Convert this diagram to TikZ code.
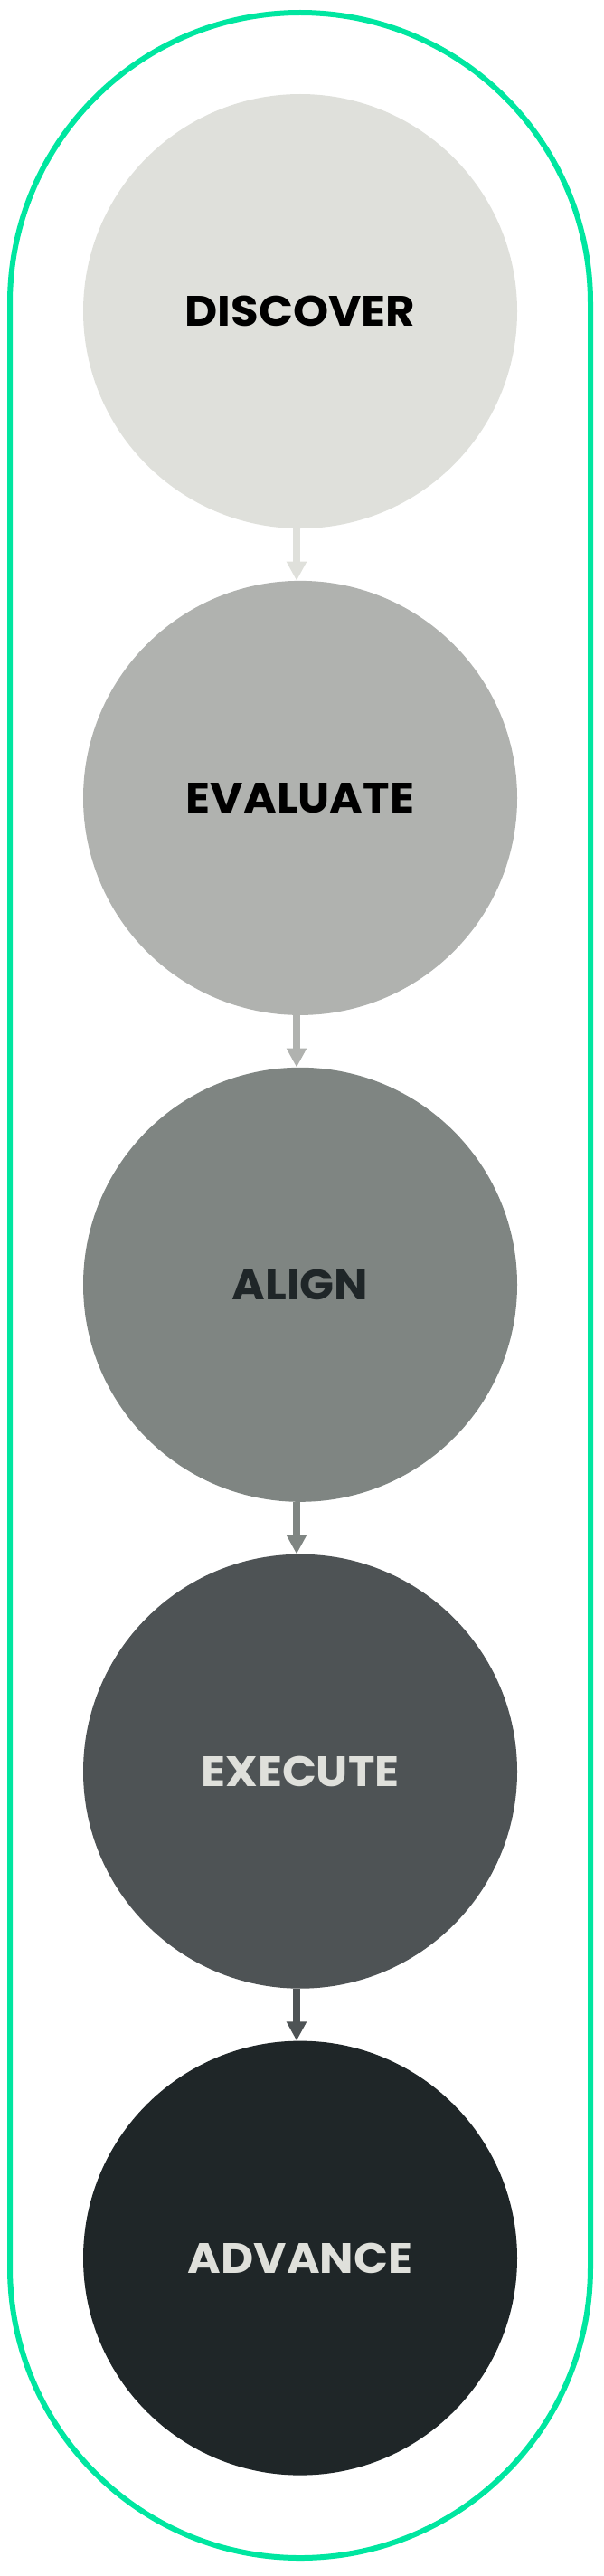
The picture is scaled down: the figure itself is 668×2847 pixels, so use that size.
\documentclass[tikz,border=0pt]{standalone}
\usepackage{fontspec}
\usepackage{xcolor}
\usetikzlibrary{arrows.meta,positioning}
\newfontfamily\stagefont{Poppins}[FakeStretch=1.06]
\definecolor{mint}{HTML}{00E6A0}
\definecolor{stone}{HTML}{DFE0DB}
\definecolor{pebble}{HTML}{B0B2AF}
\definecolor{slate}{HTML}{7F8582}
\definecolor{graphite}{HTML}{4E5355}
\definecolor{ink}{HTML}{1F2628}
\tikzset{
  stage/.style={
    circle, fill=#1, minimum size=480pt, inner sep=0pt,
    font=\stagefont\bfseries\fontsize{47}{50}\selectfont
  },
  stage/.default=stone,
  flow/.style={
    -{Triangle[length=21pt, width=21pt]}, line width=8pt, color=#1
  },
  flow/.default=stone,
  ring/.style={draw=mint, line width=6pt, rounded corners=321pt}
}
\begin{document}
\begin{tikzpicture}[x=1pt, y=1pt, node distance=57.5pt]
\useasboundingbox (0,0) rectangle (668,-2847);
\draw[ring] (11,-14) rectangle (653,-2827);
\node[stage=stone, text=black] (discover) at (332,-344) {DISCOVER};
\node[stage=pebble, text=black, below=of discover] (evaluate) {EVALUATE};
\node[stage=slate, text=ink, below=of evaluate] (align) {ALIGN};
\node[stage=graphite, text=stone, below=of align] (execute) {EXECUTE};
\node[stage=ink, text=stone, below=of execute] (advance) {ADVANCE};
\draw[flow=stone] ([xshift=-4pt]discover.south) -- ([xshift=-4pt]evaluate.north);
\draw[flow=pebble] ([xshift=-4pt]evaluate.south) -- ([xshift=-4pt]align.north);
\draw[flow=slate] ([xshift=-4pt]align.south) -- ([xshift=-4pt]execute.north);
\draw[flow=graphite] ([xshift=-4pt]execute.south) -- ([xshift=-4pt]advance.north);
\end{tikzpicture}
\end{document}
